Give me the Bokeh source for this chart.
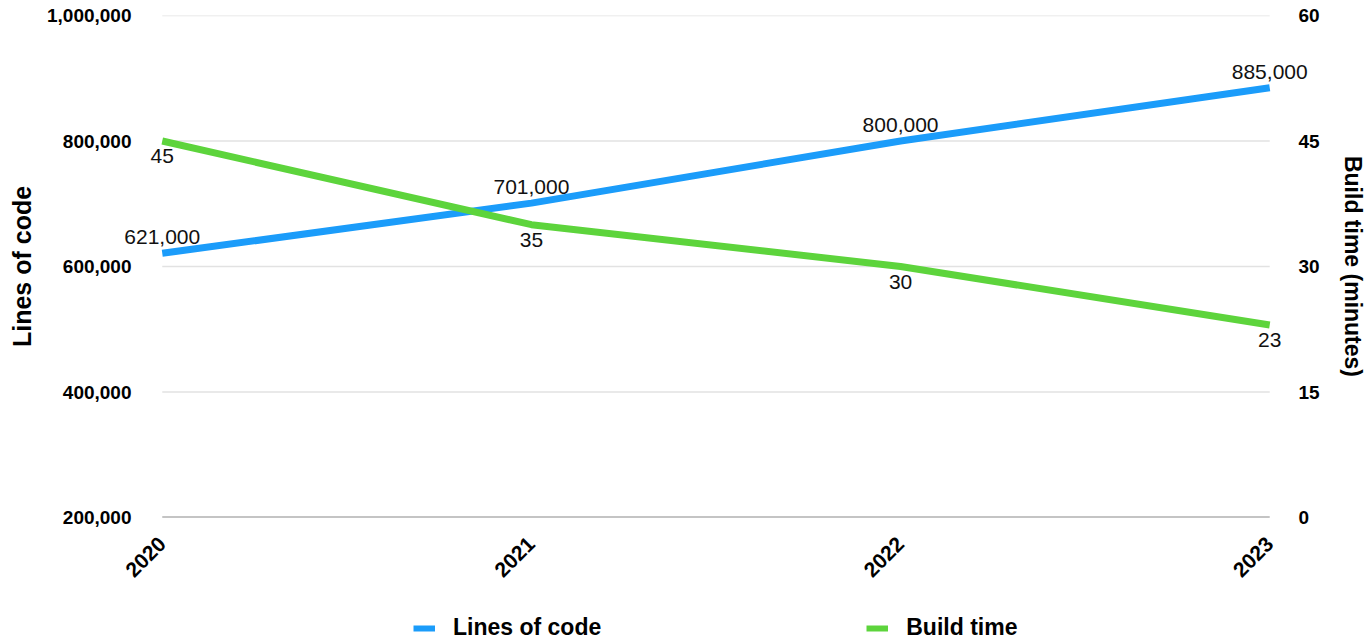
from bokeh.plotting import figure
from bokeh.layouts import column
from bokeh.models import (ColumnDataSource, Range1d, LinearAxis, FixedTicker,
                          NumeralTickFormatter, LabelSet, Legend, LegendItem)
from bokeh.core.properties import value
from bokeh.embed import file_html
from bokeh.resources import INLINE
import math

# Yearly codebase size vs. build duration
years = [2020, 2021, 2022, 2023]
lines_of_code = [621000, 701000, 800000, 885000]
build_time = [45, 35, 30, 23]

loc_ticks = [200000, 400000, 600000, 800000, 1000000]
time_ticks = [0, 15, 30, 45, 60]

BLUE = "#1b9cfa"
GREEN = "#5dd43c"
FONT = "Liberation Sans"

# plotting area: the years span 1113 px; the frame is padded on both sides
# so the end-point value labels are not clipped
SPAN_PX = 1113
PAD_L, PAD_R = 50, 45
FRAME_LEFT = 162 - PAD_L
FRAME_RIGHT = 1275 + PAD_R
px_per_year = SPAN_PX / (years[-1] - years[0])
x_start = years[0] - PAD_L / px_per_year
x_end = years[-1] + PAD_R / px_per_year

src = ColumnDataSource(dict(
    year=years,
    loc=lines_of_code,
    time=build_time,
    loc_txt=[f"{v:,}" for v in lines_of_code],
    time_txt=[str(v) for v in build_time],
))

grid_src = ColumnDataSource(dict(
    x0=[years[0]] * len(loc_ticks),
    x1=[years[-1]] * len(loc_ticks),
    y=loc_ticks,
    color=["#8a8a8a"] + ["#e2e2e2"] * (len(loc_ticks) - 1),
    width=[2] + [1.5] * (len(loc_ticks) - 1),
))

p = figure(width=1368, height=600, output_backend="svg", toolbar_location=None,
           x_range=Range1d(x_start, x_end),
           y_range=Range1d(loc_ticks[0], loc_ticks[-1]),
           min_border_left=FRAME_LEFT, min_border_right=1368 - FRAME_RIGHT,
           min_border_top=15, min_border_bottom=83)
p.outline_line_color = None
p.background_fill_color = "white"
p.border_fill_color = "white"
p.xgrid.grid_line_color = None
p.ygrid.grid_line_color = None

p.extra_y_ranges = {"time": Range1d(time_ticks[0], time_ticks[-1])}

# left axis: lines of code
ya = p.yaxis[0]
ya.ticker = FixedTicker(ticks=loc_ticks)
ya.formatter = NumeralTickFormatter(format="0,0")
ya.axis_label = "Lines of code"

# right axis: build time
ra = LinearAxis(y_range_name="time", ticker=FixedTicker(ticks=time_ticks),
                axis_label="Build time (minutes)")
p.add_layout(ra, "right")

for ax in (ya, ra):
    ax.axis_line_color = None
    ax.major_tick_line_color = None
    ax.minor_tick_line_color = None
    ax.major_label_text_font = FONT
    ax.major_label_text_font_style = "bold"
    ax.major_label_text_font_size = "19px"
    ax.major_label_text_color = "black"
    ax.axis_label_text_font = FONT
    ax.axis_label_text_font_style = "bold"
    ax.axis_label_text_color = "black"
ya.axis_label_text_font_size = "25px"
ra.axis_label_text_font_size = "23px"
ya.major_label_standoff = -(162 - FRAME_LEFT) + 25
ra.major_label_standoff = -(FRAME_RIGHT - 1275) + 23
ya.axis_label_standoff = 8
ra.axis_label_standoff = 17

xa = p.xaxis[0]
xa.ticker = FixedTicker(ticks=years)
xa.formatter = NumeralTickFormatter(format="0")
xa.major_label_orientation = math.pi / 4
xa.major_label_text_font = FONT
xa.major_label_text_font_style = "bold"
xa.major_label_text_font_size = "21px"
xa.major_label_text_color = "black"
xa.major_label_standoff = 17
xa.axis_line_color = None
xa.major_tick_line_color = None
xa.minor_tick_line_color = None

# horizontal grid lines spanning the year range; the lowest one is the baseline
p.segment(x0="x0", x1="x1", y0="y", y1="y", source=grid_src,
          line_color="color", line_width="width")

r_loc = p.line("year", "loc", source=src, line_color=BLUE, line_width=7)
r_time = p.line("year", "time", source=src, y_range_name="time",
                line_color=GREEN, line_width=7)

lbl_style = dict(text_font=value(FONT), text_font_size="21px",
                 text_color="#111111", text_align="center",
                 text_baseline="middle")
p.add_layout(LabelSet(x="year", y="loc", text="loc_txt", source=src,
                      y_offset=16, **lbl_style))
p.add_layout(LabelSet(x="year", y="time", text="time_txt", source=src,
                      y_range_name="time", y_offset=-15, **lbl_style))

# legend strip below the chart; its frame lines up with the chart frame
lg = figure(width=1368, height=41, output_backend="svg", toolbar_location=None,
            x_range=Range1d(0, 1), y_range=Range1d(0, 1),
            min_border_left=0, min_border_right=0, min_border_top=0,
            min_border_bottom=0)
lg.axis.visible = False
lg.grid.grid_line_color = None
lg.outline_line_color = None
lg.border_fill_color = "white"
# key swatches: off-range points so only the legend shows them
k_loc = lg.line(x=[5, 6], y=[5, 6], line_color=BLUE, line_width=6)
k_time = lg.line(x=[5, 6], y=[5, 6], line_color=GREEN, line_width=6)

legend = Legend(items=[LegendItem(label="Lines of code", renderers=[k_loc]),
                       LegendItem(label="Build time", renderers=[k_time])],
                orientation="horizontal", location=(413 - FRAME_LEFT, 0),
                spacing=265, label_standoff=18, glyph_width=22, glyph_height=20,
                padding=0, margin=0, border_line_color=None,
                background_fill_alpha=0,
                label_text_font=FONT, label_text_font_style="bold",
                label_text_font_size="23px", label_text_color="black")
lg.add_layout(legend, "center")

page = column(p, lg, spacing=0)
open("out.html", "w").write(file_html(page, INLINE))
